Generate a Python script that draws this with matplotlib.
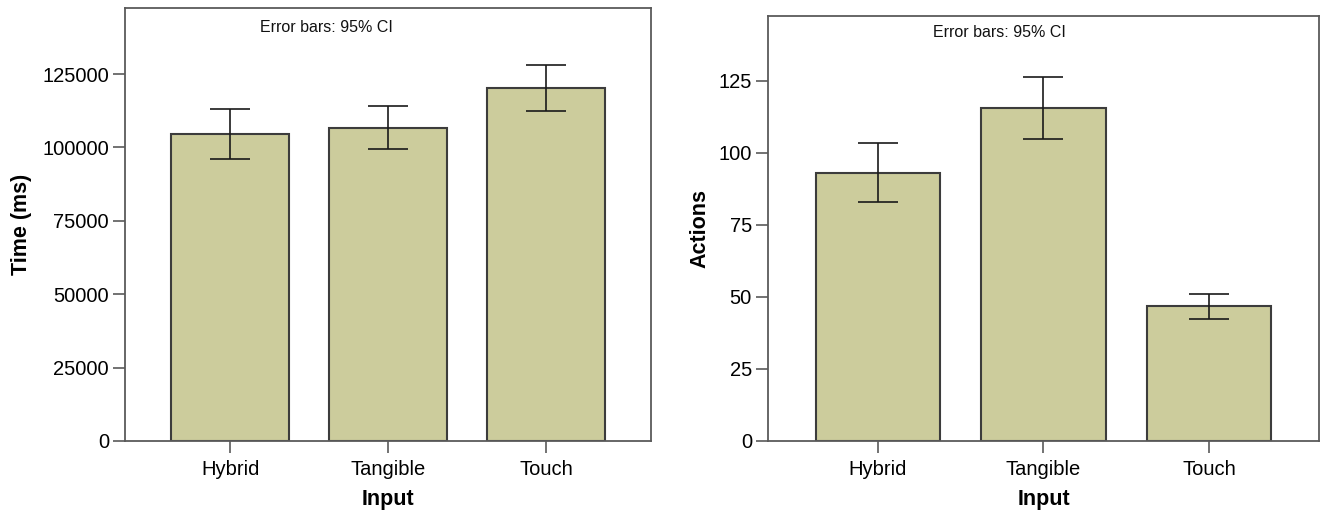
import matplotlib
matplotlib.use("Agg")
import matplotlib.pyplot as plt
import numpy as np

plt.rcParams["font.family"] = ["Liberation Sans", "DejaVu Sans"]

# Data
categories = ["Hybrid", "Tangible", "Touch"]

time_mean = [104500, 106700, 120100]
time_ci_low = [95900, 99400, 112400]
time_ci_high = [113200, 114000, 128100]

actions_mean = [93.0, 115.4, 46.9]
actions_ci_low = [82.9, 104.7, 42.4]
actions_ci_high = [103.5, 126.2, 51.1]

time_ticks = [0, 25000, 50000, 75000, 100000, 125000]
actions_ticks = [0, 25, 50, 75, 100, 125]

BAR_COLOR = "#CCCC9C"
EDGE_COLOR = "#3c3c3c"
SPINE_COLOR = "#5a5a5a"

fig = plt.figure(figsize=(13.22, 5.15), dpi=100)
ax1 = fig.add_axes([0.0946, 0.1437, 0.3979, 0.8408])
ax2 = fig.add_axes([0.5809, 0.1437, 0.4168, 0.8258])


def draw_panel(ax, means, lo, hi, ticks, ymax, ylabel, ylabel_x, xlabel_y,
               note_x, note_y):
    x = np.arange(len(categories))
    means = np.asarray(means)
    yerr = np.vstack([means - np.asarray(lo), np.asarray(hi) - means])
    ax.bar(x, means, width=0.75, color=BAR_COLOR, edgecolor=EDGE_COLOR,
           linewidth=1.5, zorder=2)
    ax.errorbar(x, means, yerr=yerr, fmt="none", ecolor="#1a1a1a",
                elinewidth=1.2, capsize=14.2, capthick=1.2, zorder=3)
    ax.set_xlim(-0.665, 2.665)
    ax.set_ylim(0, ymax)
    ax.set_xticks(x)
    ax.set_xticklabels(categories, fontsize=14.5)
    ax.set_yticks(ticks)
    ax.set_yticklabels([str(t) for t in ticks], fontsize=14.5)
    ax.tick_params(axis="both", direction="out", length=8.5, width=1.2,
                   color=SPINE_COLOR, pad=3)
    ax.tick_params(axis="x", pad=5)
    for s in ax.spines.values():
        s.set_color(SPINE_COLOR)
        s.set_linewidth(1.3)
    ax.set_ylabel(ylabel, fontsize=15.5, fontweight="bold")
    ax.yaxis.set_label_coords(ylabel_x, 0.5)
    ax.set_xlabel("Input", fontsize=15.5, fontweight="bold")
    ax.xaxis.set_label_coords(0.5, xlabel_y)
    ax.text(note_x, note_y, "Error bars: 95% CI", transform=ax.transAxes,
            ha="center", va="center", fontsize=11.5, color="#111111")


draw_panel(ax1, time_mean, time_ci_low, time_ci_high, time_ticks, 147500,
           "Time (ms)", -0.177, -0.110, 0.382, 0.956)
draw_panel(ax2, actions_mean, actions_ci_low, actions_ci_high, actions_ticks, 147.5,
           "Actions", -0.105, -0.112, 0.421, 0.961)

fig.savefig("out.png", dpi=100)
